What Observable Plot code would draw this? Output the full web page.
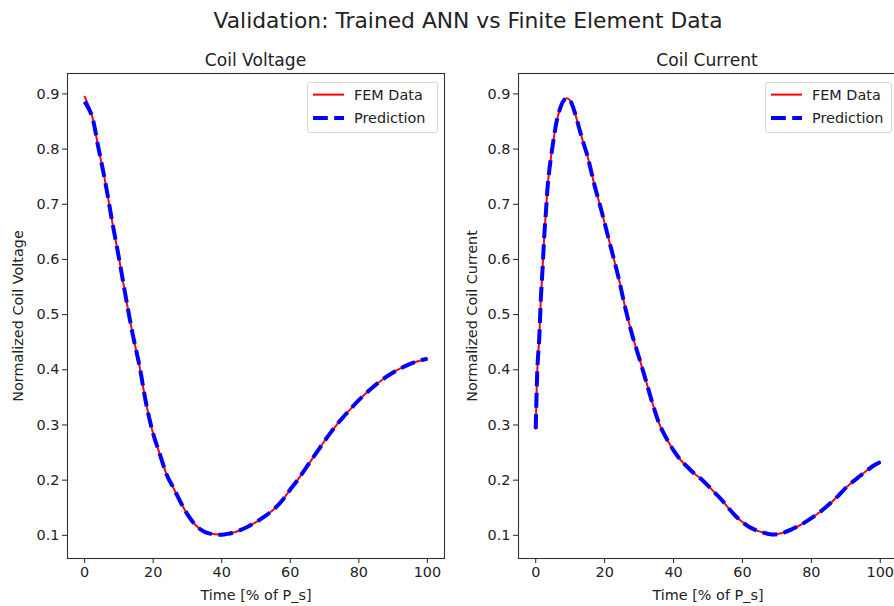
<!DOCTYPE html>
<html>
<head>
<meta charset="utf-8">
<script src="https://cdn.jsdelivr.net/npm/d3@7"></script>
<script src="https://cdn.jsdelivr.net/npm/@observablehq/plot@0.6"></script>
<style>
  html, body { margin: 0; padding: 0; background: #fff; }
  #fig { position: relative; width: 894px; height: 606px; overflow: hidden; font-family: "DejaVu Sans", sans-serif; color: #222; }
  .abs { position: absolute; white-space: nowrap; }
  .legend { position: absolute; border: 1px solid #d6d6d6; border-radius: 3px; background: rgba(255,255,255,0.8); }
</style>
</head>
<body>
<div id="fig"></div>
<script>
// ---- Data ----
const suptitle = "Validation: Trained ANN vs Finite Element Data";
const panelTitles = ["Coil Voltage", "Coil Current"];
const yLabels = ["Normalized Coil Voltage", "Normalized Coil Current"];
const xLabel = "Time [% of P_s]";
const seriesNames = ["FEM Data", "Prediction"];
const xTicks = [0, 20, 40, 60, 80, 100];
const yTicks = [0.1, 0.2, 0.3, 0.4, 0.5, 0.6, 0.7, 0.8, 0.9];

const voltageTime = [0, 2, 4, 6, 8, 10, 12, 14, 16, 18, 20, 22, 24, 26, 28, 30, 32, 34, 36, 38, 40,
  42, 44, 46, 48, 50, 52, 54, 56, 58, 60, 62, 64, 66, 68, 70, 72, 74, 76, 78, 80,
  82, 84, 86, 88, 90, 92, 94, 96, 98, 100];
const voltageFEM = [0.895, 0.864, 0.803, 0.741, 0.670, 0.603, 0.532, 0.465, 0.407, 0.337, 0.284, 0.246, 0.209, 0.185, 0.160, 0.138, 0.121, 0.110, 0.104, 0.102, 0.101,
  0.103, 0.106, 0.111, 0.117, 0.124, 0.132, 0.141, 0.152, 0.166, 0.183, 0.199, 0.217, 0.235, 0.253, 0.271, 0.288, 0.304, 0.318, 0.332, 0.345,
  0.357, 0.368, 0.378, 0.387, 0.395, 0.402, 0.408, 0.413, 0.417, 0.420];
const voltagePred = [0.886, 0.862, 0.803, 0.741, 0.670, 0.603, 0.532, 0.465, 0.407, 0.337, 0.284, 0.246, 0.209, 0.185, 0.160, 0.138, 0.121, 0.110, 0.104, 0.102, 0.101,
  0.103, 0.106, 0.111, 0.117, 0.124, 0.132, 0.141, 0.152, 0.166, 0.183, 0.199, 0.217, 0.235, 0.253, 0.271, 0.288, 0.304, 0.318, 0.332, 0.345,
  0.357, 0.368, 0.378, 0.387, 0.395, 0.402, 0.408, 0.413, 0.417, 0.420];

const currentTime = [0, 0.5, 1, 1.5, 2, 2.5, 3, 3.5, 4, 5, 6, 7, 8, 9, 10, 11, 12, 13, 14, 15, 16, 17, 18, 19, 20,
  22, 24, 26, 28, 30, 32, 34, 36, 38, 40, 42, 44, 46, 48, 50, 52, 54, 56, 58, 60,
  62, 64, 66, 68, 70, 72, 74, 76, 78, 80, 82, 84, 86, 88, 90, 92, 94, 96, 98, 100];
const currentFEM = [0.293, 0.405, 0.455, 0.530, 0.585, 0.645, 0.690, 0.735, 0.765, 0.810, 0.848, 0.872, 0.887, 0.892, 0.888, 0.873, 0.852, 0.829, 0.808, 0.788, 0.762, 0.736, 0.713, 0.690, 0.666,
  0.617, 0.568, 0.512, 0.463, 0.422, 0.380, 0.337, 0.300, 0.275, 0.254, 0.237, 0.224, 0.212, 0.202, 0.190, 0.177, 0.164, 0.149, 0.135, 0.124,
  0.115, 0.109, 0.105, 0.102, 0.102, 0.105, 0.110, 0.116, 0.123, 0.131, 0.140, 0.150, 0.161, 0.173, 0.186, 0.197, 0.207, 0.217, 0.226, 0.233];
const currentPred = [0.293, 0.405, 0.455, 0.530, 0.585, 0.645, 0.690, 0.735, 0.765, 0.810, 0.848, 0.872, 0.887, 0.892, 0.888, 0.873, 0.852, 0.829, 0.808, 0.788, 0.762, 0.736, 0.713, 0.690, 0.666,
  0.617, 0.568, 0.512, 0.463, 0.422, 0.380, 0.337, 0.300, 0.275, 0.254, 0.237, 0.224, 0.212, 0.202, 0.190, 0.177, 0.164, 0.149, 0.135, 0.124,
  0.115, 0.109, 0.105, 0.102, 0.102, 0.105, 0.110, 0.116, 0.123, 0.131, 0.140, 0.150, 0.161, 0.173, 0.186, 0.197, 0.207, 0.217, 0.226, 0.233];

const colors = { fem: "#ff0000", pred: "#0000ff" };
const dash = "14.8,6.4";
const baseFont = 14.4;

// ---- Build ----
const fig = document.getElementById("fig");

function addText(txt, x, y, size, rotate) {
  const d = document.createElement("div");
  d.className = "abs";
  d.textContent = txt;
  d.style.left = x + "px";
  d.style.top = y + "px";
  d.style.fontSize = size + "px";
  d.style.transform = "translate(-50%,-50%)" + (rotate ? " rotate(" + rotate + "deg)" : "");
  fig.appendChild(d);
  return d;
}

function toRows(xs, ys) { return xs.map((t, i) => ({ t, v: ys[i] })); }

function panel(opts) {
  const fem = toRows(opts.time, opts.fem);
  const pred = toRows(opts.time, opts.pred);
  const svg = Plot.plot({
    width: 450,
    height: 540,
    marginLeft: opts.marginLeft,
    marginRight: opts.marginRight,
    marginTop: 7,
    marginBottom: 48,
    x: { domain: [-5, 105] },
    y: { domain: [0.058, 0.937] },
    style: { fontFamily: "DejaVu Sans", fontSize: baseFont + "px", color: "#222", background: "transparent", overflow: "visible" },
    marks: [
      Plot.frame({ stroke: "#333", strokeWidth: 1.1 }),
      Plot.axisX({ ticks: xTicks, tickSize: 5, tickPadding: 3, label: null, tickFormat: d => String(d) }),
      Plot.axisY({ ticks: yTicks, tickSize: 5, tickPadding: 3, label: null, tickFormat: d => d.toFixed(1) }),
      Plot.line(fem, { x: "t", y: "v", stroke: colors.fem, strokeWidth: 2, curve: "catmull-rom" }),
      Plot.line(pred, { x: "t", y: "v", stroke: colors.pred, strokeWidth: 4, strokeDasharray: dash, strokeLinecap: "butt", curve: "catmull-rom" }),
      Plot.text([opts.ylabel], { text: d => d, frameAnchor: "left", textAnchor: "middle", lineAnchor: "middle", dx: opts.ylabelDx, rotate: -90 }),
      Plot.text([xLabel], { text: d => d, frameAnchor: "bottom", textAnchor: "middle", lineAnchor: "middle", dy: 37 })
    ]
  });
  svg.style.position = "absolute";
  svg.style.left = opts.left + "px";
  svg.style.top = "66px";
  fig.appendChild(svg);
}

function legend(x, y, w, h) {
  const d = document.createElement("div");
  d.className = "legend";
  d.style.left = x + "px";
  d.style.top = y + "px";
  d.style.width = w + "px";
  d.style.height = h + "px";
  d.innerHTML =
    '<svg width="40" height="' + h + '" style="position:absolute;left:4px;top:0">' +
    '<line x1="1" x2="32" y1="11.6" y2="11.6" stroke="' + colors.fem + '" stroke-width="2"/>' +
    '<line x1="1" x2="32" y1="35" y2="35" stroke="' + colors.pred + '" stroke-width="4" stroke-dasharray="' + dash + '"/>' +
    '</svg>' +
    '<div style="position:absolute;left:46px;top:11.6px;transform:translateY(-50%);font-size:' + baseFont + 'px;white-space:nowrap">' + seriesNames[0] + '</div>' +
    '<div style="position:absolute;left:46px;top:35px;transform:translateY(-50%);font-size:' + baseFont + 'px;white-space:nowrap">' + seriesNames[1] + '</div>';
  fig.appendChild(d);
}

addText(suptitle, 468, 20, 21.8);
addText(panelTitles[0], 255.5, 60, 17.1);
addText(panelTitles[1], 707, 60, 17.1);

panel({ left: 0, marginLeft: 67, marginRight: 6, time: voltageTime, fem: voltageFEM, pred: voltagePred, ylabel: yLabels[0], ylabelDx: -49 });
panel({ left: 450, marginLeft: 68, marginRight: 3, time: currentTime, fem: currentFEM, pred: currentPred, ylabel: yLabels[1], ylabelDx: -46 });

legend(307, 82, 129, 49);
legend(765, 82, 125, 49);
</script>
</body>
</html>
